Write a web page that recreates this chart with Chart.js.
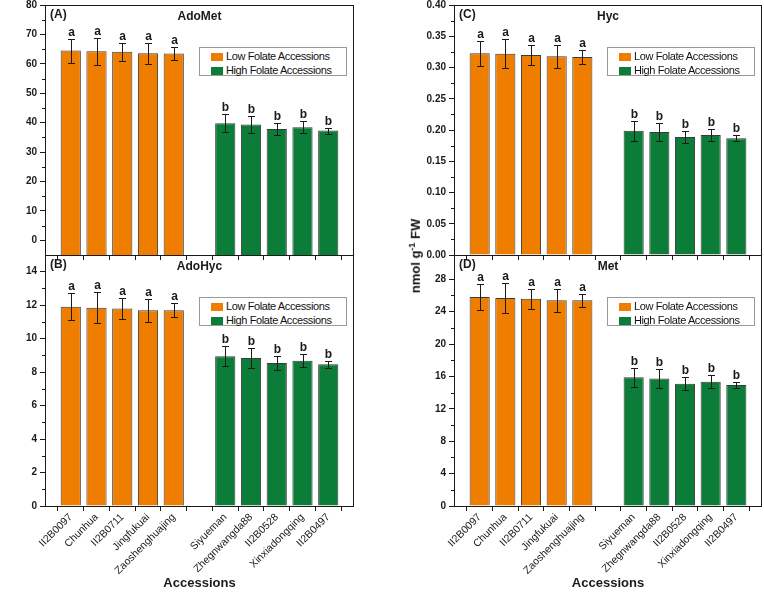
<!DOCTYPE html>
<html>
<head>
<meta charset="utf-8">
<script src="https://cdn.jsdelivr.net/npm/chart.js@4.4.0/dist/chart.umd.min.js"></script>
<style>
  html, body { margin: 0; padding: 0; overflow: hidden; background: #fff; font-family: Arial, "Liberation Sans", sans-serif; }
  #wrap { position: relative; width: 764px; height: 592px; overflow: hidden; }
  canvas { position: absolute; }
  .legend { position: absolute; width: 146px; height: 27px; border: 1px solid #9a9a9a; background: #fff;
            font-size: 11px; letter-spacing: -0.4px; color: #111; }
  .legend div { position: absolute; left: 11px; height: 12px; line-height: 12px; white-space: nowrap; }
  .legend span { display: inline-block; width: 12px; height: 8px; margin-right: 3px; vertical-align: -1px; }
  #ytitle { position: absolute; left: 415px; top: 256px; transform: translate(-50%, -50%) rotate(-90deg);
            font-weight: bold; font-size: 13px; white-space: nowrap; color: #111; }
  #ytitle sup { font-size: 9px; }
</style>
</head>
<body>
<div id="wrap">
  <canvas id="cA" width="380" height="262" style="left:0;top:0"></canvas>
  <canvas id="cB" width="380" height="342" style="left:0;top:250px"></canvas>
  <canvas id="cC" width="384" height="262" style="left:380px;top:0"></canvas>
  <canvas id="cD" width="384" height="342" style="left:380px;top:250px"></canvas>
  <div id="ytitle">nmol g<sup>-1</sup> FW</div>
</div>
<script>
// accessions on the x axis
const lowAccessions = ["II2B0097", "Chunhua", "II2B0711", "Jingfukuai", "Zaoshenghuajing"];
const highAccessions = ["Siyueman", "Zhegnwangda88", "II2B0528", "Xinxiadongqing", "II2B0497"];
const lowLabel = "Low Folate Accessions";
const highLabel = "High Folate Accessions";
const lowLetter = "a";
const highLetter = "b";

// (A) AdoMet
const adoMetLow = [64.5, 64.3, 64.1, 63.6, 63.5];
const adoMetLowErr = [4.1, 4.6, 3.1, 3.6, 2.1];
const adoMetHigh = [39.8, 39.4, 37.8, 38.4, 37.3];
const adoMetHighErr = [3.1, 3.0, 2.1, 2.0, 1.0];
const adoMetTicks = [0, 10, 20, 30, 40, 50, 60, 70, 80];

// (B) AdoHyc
const adoHycLow = [11.9, 11.85, 11.8, 11.7, 11.7];
const adoHycLowErr = [0.8, 0.93, 0.62, 0.7, 0.42];
const adoHycHigh = [8.95, 8.85, 8.55, 8.68, 8.47];
const adoHycHighErr = [0.6, 0.62, 0.41, 0.38, 0.2];
const adoHycTicks = [0, 2, 4, 6, 8, 10, 12, 14];

// (C) Hyc
const hycLow = [0.323, 0.322, 0.320, 0.318, 0.317];
const hycLowErr = [0.020, 0.023, 0.016, 0.018, 0.011];
const hycHigh = [0.199, 0.197, 0.189, 0.192, 0.187];
const hycHighErr = [0.016, 0.015, 0.010, 0.010, 0.005];
const hycTicks = [0, 0.05, 0.10, 0.15, 0.20, 0.25, 0.30, 0.35, 0.40];

// (D) Met
const metLow = [25.8, 25.7, 25.6, 25.4, 25.4];
const metLowErr = [1.6, 1.85, 1.25, 1.4, 0.8];
const metHigh = [15.9, 15.75, 15.1, 15.35, 14.95];
const metHighErr = [1.2, 1.2, 0.8, 0.8, 0.37];
const metTicks = [0, 4, 8, 12, 16, 20, 24, 28];

// empty slot at each end and one between the two groups
const categories = ["", ...lowAccessions, "", ...highAccessions, ""];

const ORANGE = "#EE7D00";
const GREEN = "#0B7D39";
const INK = "#1a1a1a";
const FONT = "Arial, 'Liberation Sans', sans-serif";

function place(vals, start) {
  return categories.map((c, i) => (i >= start && i < start + vals.length) ? vals[i - start] : null);
}

// error bars, letters, frame, minor ticks, panel tag and title
const decor = {
  id: "decor",
  afterDatasetsDraw(chart, args, o) {
    const { ctx, scales: { y } } = chart;
    ctx.save();
    ctx.strokeStyle = INK;
    ctx.lineWidth = 1;
    ctx.fillStyle = INK;
    ctx.font = "bold 12px " + FONT;
    ctx.textAlign = "center";
    chart.data.datasets.forEach((ds, di) => {
      chart.getDatasetMeta(di).data.forEach((bar, i) => {
        const v = ds.data[i];
        if (v == null) return;
        const e = ds.errors[i];
        const x = Math.round(bar.x) + 0.5;
        const yt = Math.round(y.getPixelForValue(v + e)) + 0.5;
        const yb = Math.round(y.getPixelForValue(v - e)) + 0.5;
        ctx.beginPath();
        ctx.moveTo(x, yt); ctx.lineTo(x, yb);
        ctx.moveTo(x - 3.5, yt); ctx.lineTo(x + 3.5, yt);
        ctx.moveTo(x - 3.5, yb); ctx.lineTo(x + 3.5, yb);
        ctx.stroke();
        ctx.fillText(ds.letter, x, yt - 4);
      });
    });
    ctx.restore();
  },
  afterDraw(chart, args, o) {
    const { ctx, chartArea: a, scales: { y } } = chart;
    ctx.save();
    ctx.strokeStyle = INK;
    ctx.lineWidth = 1;
    ctx.strokeRect(Math.round(a.left) + 0.5, Math.round(a.top) + 0.5,
                   Math.round(a.right - a.left) - 1, Math.round(a.bottom - a.top));
    const t = o.ticks;
    ctx.beginPath();
    for (let i = 0; i < t.length - 1; i++) {
      const py = Math.round(y.getPixelForValue((t[i] + t[i + 1]) / 2)) + 0.5;
      ctx.moveTo(a.left - 3, py); ctx.lineTo(a.left, py);
    }
    ctx.stroke();
    ctx.fillStyle = INK;
    ctx.font = "bold 12px " + FONT;
    ctx.textBaseline = "middle";
    ctx.textAlign = "left";
    ctx.fillText(o.tag, a.left + 5, a.top + 10);
    ctx.textAlign = "center";
    ctx.fillText(o.title, (a.left + a.right) / 2, a.top + 12);
    ctx.restore();
  }
};

function makePanel(id, p) {
  const canvas = document.getElementById(id);
  const chart = new Chart(canvas, {
    type: "bar",
    data: {
      labels: categories,
      datasets: [
        { label: lowLabel, data: place(p.low, 1), errors: place(p.lowErr, 1), letter: lowLetter,
          backgroundColor: ORANGE, borderColor: "#3a3a3a", borderWidth: 1, base: p.min, grouped: false,
          barPercentage: 0.8, categoryPercentage: 0.98 },
        { label: highLabel, data: place(p.high, 7), errors: place(p.highErr, 7), letter: highLetter,
          backgroundColor: GREEN, borderColor: "#3a3a3a", borderWidth: 1, base: p.min, grouped: false,
          barPercentage: 0.8, categoryPercentage: 0.98 }
      ]
    },
    options: {
      responsive: false,
      animation: false,
      layout: { padding: { left: 0, right: p.padRight, top: 5, bottom: 0 } },
      plugins: {
        legend: { display: false },
        tooltip: { enabled: false },
        decor: { ticks: p.ticks, tag: p.tag, title: p.title }
      },
      scales: {
        x: {
          offset: false,
          grid: { drawOnChartArea: false, tickLength: 5, color: INK },
          border: { display: false },
          ticks: {
            display: p.showLabels, autoSkip: false, maxRotation: 45, minRotation: 45,
            color: INK, font: { family: FONT, size: 10.5 }, padding: 0
          },
          title: { display: p.showLabels, text: "Accessions", color: INK,
                   font: { family: FONT, size: 13, weight: "bold" }, padding: { top: 0, bottom: 1 } },
          afterFit(s) { s.height = p.xHeight; s.paddingLeft = 0; s.paddingRight = 0; }
        },
        y: {
          min: p.min, max: p.max,
          grid: { drawOnChartArea: false, tickLength: 5, color: INK },
          border: { display: false },
          ticks: {
            color: INK, padding: 3, font: { family: FONT, size: 10, weight: "bold" },
            callback: v => v.toFixed(p.decimals)
          },
          afterBuildTicks(s) { s.ticks = p.ticks.map(v => ({ value: v })); },
          afterFit(s) { s.width = p.yWidth; s.paddingTop = 0; s.paddingBottom = 0; }
        }
      }
    },
    plugins: [decor]
  });

  // legend box inside the plot area, top right
  const a = chart.chartArea;
  const box = document.createElement("div");
  box.className = "legend";
  box.style.left = (canvas.offsetLeft + a.right - 155) + "px";
  box.style.top = (canvas.offsetTop + a.top + 42) + "px";
  box.innerHTML =
    '<div style="top:2px"><span style="background:' + ORANGE + '"></span>' + lowLabel + '</div>' +
    '<div style="top:16px"><span style="background:' + GREEN + '"></span>' + highLabel + '</div>';
  document.getElementById("wrap").appendChild(box);
  return chart;
}

makePanel("cA", { tag: "(A)", title: "AdoMet", low: adoMetLow, lowErr: adoMetLowErr, high: adoMetHigh,
  highErr: adoMetHighErr, ticks: adoMetTicks, min: -5, max: 80, decimals: 0,
  yWidth: 45, padRight: 26, xHeight: 7, showLabels: false });
makePanel("cB", { tag: "(B)", title: "AdoHyc", low: adoHycLow, lowErr: adoHycLowErr, high: adoHycHigh,
  highErr: adoHycHighErr, ticks: adoHycTicks, min: 0, max: 15, decimals: 0,
  yWidth: 45, padRight: 26, xHeight: 86, showLabels: true });
makePanel("cC", { tag: "(C)", title: "Hyc", low: hycLow, lowErr: hycLowErr, high: hycHigh,
  highErr: hycHighErr, ticks: hycTicks, min: 0, max: 0.40, decimals: 2,
  yWidth: 74, padRight: 2, xHeight: 7, showLabels: false });
makePanel("cD", { tag: "(D)", title: "Met", low: metLow, lowErr: metLowErr, high: metHigh,
  highErr: metHighErr, ticks: metTicks, min: 0, max: 31, decimals: 0,
  yWidth: 74, padRight: 2, xHeight: 86, showLabels: true });
</script>
</body>
</html>
